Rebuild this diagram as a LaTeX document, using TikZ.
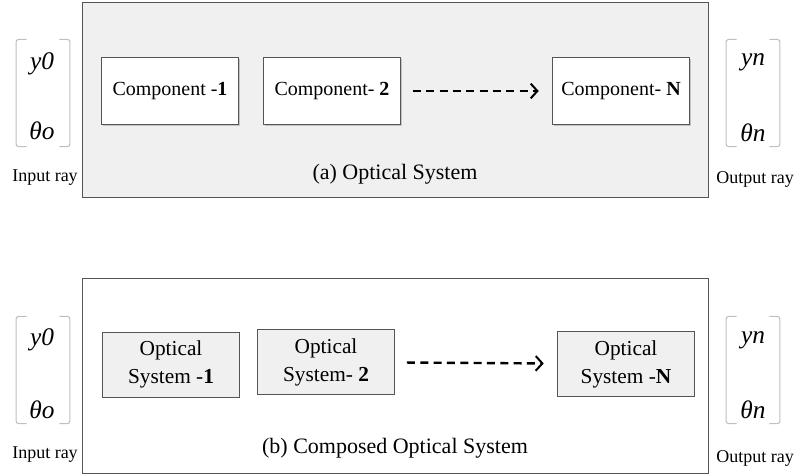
\documentclass[tikz,border=0pt]{standalone}
\usepackage{fontspec}
\setmainfont{Liberation Serif}
\usepackage{tikz}
\usetikzlibrary{shapes}
\usetikzlibrary{arrows}
\usetikzlibrary{arrows.meta}
\usetikzlibrary{shadows}
\definecolor{panel}{HTML}{F0F0F0}
\definecolor{edge}{HTML}{555555}
\tikzstyle{outer}=[
        draw=edge,
        rectangle,
        minimum width=469.5pt,
        minimum height=146pt,
        inner sep=0pt
]
\tikzstyle{comp}=[rectangle,draw=edge,fill=white,minimum width=103pt,
minimum height=50pt,font=\fontsize{15}{17}\selectfont,
drop shadow={shadow xshift=1pt,shadow yshift=-1pt,opacity=0.4}]
\tikzstyle{osys}=[rectangle,draw=edge,fill=panel,minimum width=103pt,
minimum height=49pt,align=center,font=\fontsize{16}{21}\selectfont]
\tikzstyle{vec}=[rectangle,minimum width=40pt,minimum height=80pt]
\tikzstyle{bracket}=[draw=black!25,thick,rounded corners=2pt]
\tikzstyle{entry}=[font=\fontsize{19}{21}\selectfont\itshape]
\tikzstyle{caption}=[font=\fontsize{16.5}{19}\selectfont]
\tikzstyle{raylabel}=[font=\fontsize{13.5}{16}\selectfont]
\tikzstyle{suite}=[-{Straight Barb[length=5pt,width=11pt,line width=1.5pt]},
line width=1.8pt,dash pattern=on 6pt off 4pt,
shorten <=9pt,shorten >=10pt]

\begin{document}
\begin{tikzpicture}[x=0.75pt,y=-0.75pt]
\useasboundingbox (0,0) rectangle (794,475);
% (a) optical system
\node[outer,fill=panel,drop shadow={shadow xshift=1pt,shadow yshift=-1pt,opacity=0.4}] (sysA) at (395,99.5) {};
\node[comp] (c1) at (170,91) {Component -\textbf{1}};
\node[comp] (c2) at (332,91) {Component- \textbf{2}};
\node[comp] (cN) at (621,91) {Component- \textbf{N}};
\node[caption] (capA) at (395,174) {(a) Optical System};
\draw[suite] (c2) -- (cN);

\node[vec] (inA) at (43,93) {};
\node[entry] (yA) at (42,64) {y0};
\node[entry] (tA) at (42,131) {θo};
\node[raylabel] (lA) at (45,178) {Input ray};
\node[vec] (outA) at (753,93) {};
\node[entry] (ynA) at (753,62) {yn};
\node[entry] (tnA) at (753,133) {θn};
\node[raylabel] (loA) at (755,179) {Output ray};

% (b) composed optical system
\node[outer,fill=white] (sysB) at (395,376) {};
\node[osys] (o1) at (171,364.5) {Optical\\System -\textbf{1}};
\node[osys] (o2) at (326,362) {Optical\\System- \textbf{2}};
\node[osys] (oN) at (626,364) {Optical\\System -\textbf{N}};
\node[caption] (capB) at (395,448) {(b) Composed Optical System};
\draw[suite] (o2) -- (oN);

\node[vec] (inB) at (43,370) {};
\node[entry] (yB) at (42,340) {y0};
\node[entry] (tB) at (42,410) {θo};
\node[raylabel] (lB) at (45,455) {Input ray};
\node[vec] (outB) at (753,370) {};
\node[entry] (ynB) at (753,340) {yn};
\node[entry] (tnB) at (753,410) {θn};
\node[raylabel] (loB) at (755,458) {Output ray};

\foreach \v in {inA,outA,inB,outB}{
  \draw[bracket] ([xshift=8pt]\v.north west) -- (\v.north west) -- (\v.south west) -- ++(8pt,0);
  \draw[bracket] ([xshift=-8pt]\v.north east) -- (\v.north east) -- (\v.south east) -- ++(-8pt,0);
}
\end{tikzpicture}
\end{document}
